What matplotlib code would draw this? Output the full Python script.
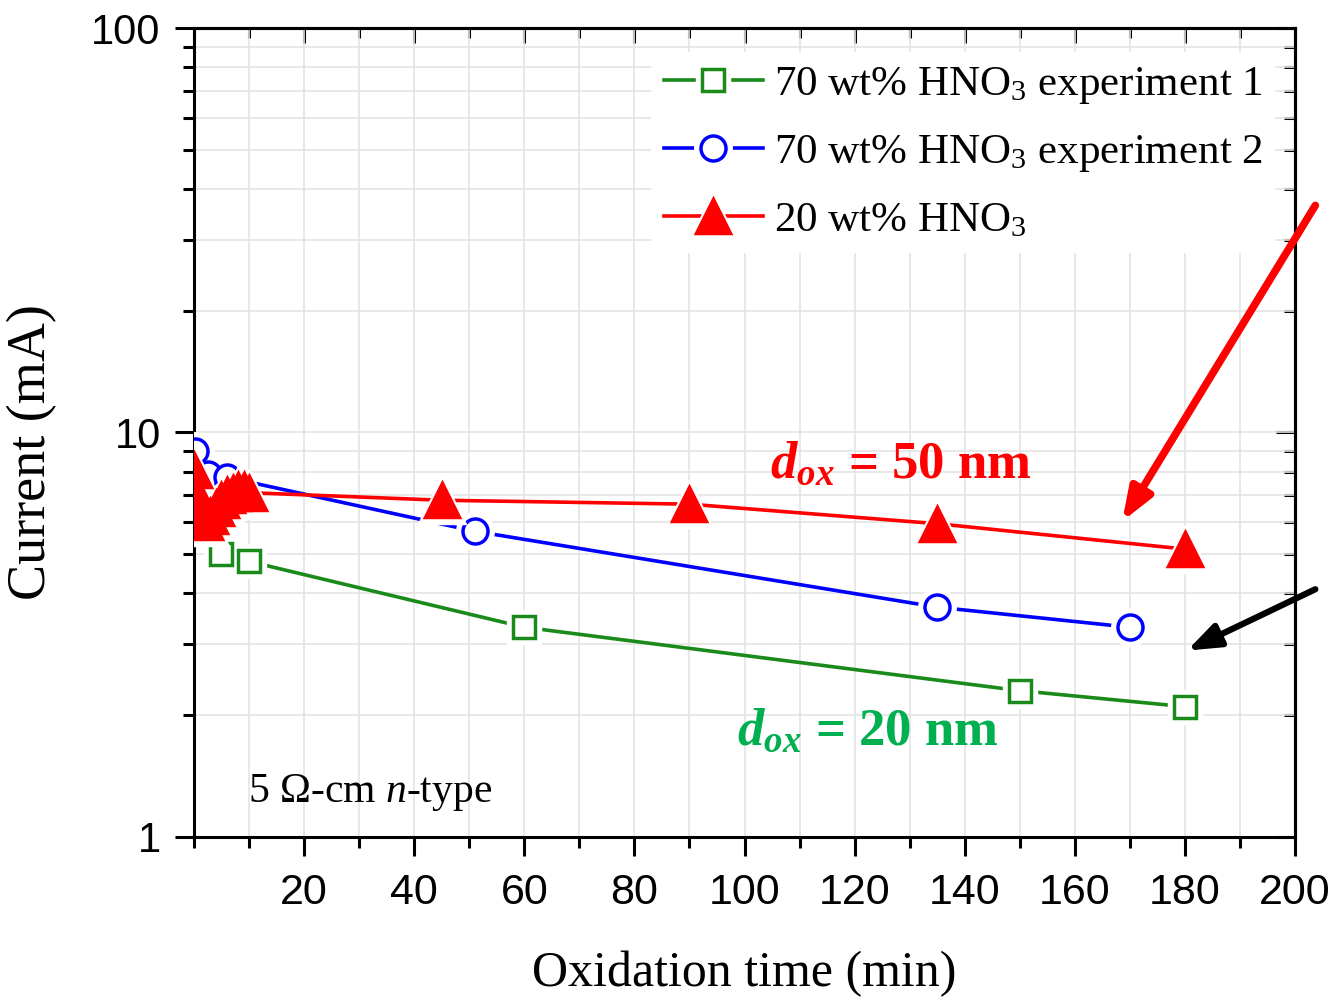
import numpy as np
import matplotlib
matplotlib.use("Agg")
import matplotlib.pyplot as plt
from matplotlib.ticker import FixedLocator, FixedFormatter, LogLocator, NullFormatter

# data (time in min, current in mA)
exp1_t = [0, 5, 10, 60, 150, 180]
exp1_i = [8.9, 5.0, 4.8, 3.3, 2.3, 2.1]

exp2_t = [0.2, 1, 2.5, 6, 51, 135, 170]
exp2_i = [9.0, 7.3, 7.9, 7.75, 5.7, 3.7, 3.3]

dil_t = [0, 0.5, 1, 2, 3, 4, 5, 6, 7, 8, 9, 10, 45, 90, 135, 180]
dil_i = [8.1, 7.0, 6.4, 6.0, 6.2, 6.5, 6.8, 7.0, 7.1, 7.2, 7.2, 7.1, 6.8, 6.65, 5.95, 5.15]

labels = ["70 wt% HNO$_3$ experiment 1",
          "70 wt% HNO$_3$ experiment 2",
          "20 wt% HNO$_3$"]

plt.rcParams["font.family"] = "Liberation Serif"
plt.rcParams["mathtext.fontset"] = "custom"
plt.rcParams["mathtext.rm"] = "Liberation Serif"
plt.rcParams["mathtext.it"] = "Liberation Serif:italic"
plt.rcParams["mathtext.bf"] = "Liberation Serif:bold"
plt.rcParams["mathtext.bfit"] = "Liberation Serif:italic:bold"

fig = plt.figure(figsize=(13.34, 9.97), dpi=100)
ax = fig.add_axes([0.1454, 0.1605, 0.8254, 0.8114])
ax.set_yscale("log")
ax.set_xlim(0, 200)
ax.set_ylim(1, 100)
ax.set_axisbelow(True)
ax.grid(which="both", color="#e4e4e4", lw=1.2)

series = [
    (exp1_t, exp1_i, "#1a8a1a", "s", 16, "white"),
    (exp2_t, exp2_i, "#0000ff", "o", 18, "white"),
    (dil_t, dil_i, "#ff0000", "^", 25, "#ff0000"),
]
handles = []
z = 2
for t, i, col, mk, ms, fc in series:
    ln, = ax.plot(t, i, "-", color=col, lw=2.6, zorder=2)
    halo, = ax.plot(t, i, ls="none", marker=mk, ms=ms + 9, mfc="white", mec="white", zorder=z + 1)
    dot, = ax.plot(t, i, ls="none", marker=mk, ms=ms, mfc=fc, mec=col, mew=2.5, zorder=z + 2)
    handles.append((ln, halo, dot))
    z += 2

# ticks: outward on left/bottom, inward on top/right
ax.xaxis.set_major_locator(FixedLocator(range(20, 201, 20)))
ax.xaxis.set_minor_locator(FixedLocator(range(0, 200, 10)))
ax.yaxis.set_major_locator(FixedLocator([1, 10, 100]))
ax.yaxis.set_major_formatter(FixedFormatter(["1", "10", "100"]))
ax.yaxis.set_minor_locator(LogLocator(subs=np.arange(2, 10)))
ax.yaxis.set_minor_formatter(NullFormatter())
ax.tick_params(which="major", direction="out", length=14, width=2.2)
ax.tick_params(which="minor", direction="out", length=8, width=2.2)
ax.tick_params(axis="x", labelsize=31, pad=12)
ax.tick_params(axis="y", labelsize=30, pad=10)
for lab in ax.get_xticklabels() + ax.get_yticklabels():
    lab.set_fontfamily("Liberation Sans")
for s in ax.spines.values():
    s.set_linewidth(2.2)

top = ax.secondary_xaxis("top")
top.xaxis.set_major_locator(FixedLocator(range(20, 201, 20)))
top.xaxis.set_minor_locator(FixedLocator(range(0, 200, 10)))
top.tick_params(which="major", direction="in", length=11, width=2.2, labeltop=False)
top.tick_params(which="minor", direction="in", length=7, width=2.2)
right = ax.secondary_yaxis("right")
right.yaxis.set_major_locator(FixedLocator([1, 10, 100]))
right.yaxis.set_minor_locator(LogLocator(subs=np.arange(2, 10)))
right.yaxis.set_minor_formatter(NullFormatter())
right.tick_params(which="major", direction="in", length=14, width=2.2, labelright=False)
right.tick_params(which="minor", direction="in", length=8, width=2.2)
for sa in (top, right):
    for s in sa.spines.values():
        s.set_linewidth(2.2)

ax.set_xlabel("Oxidation time (min)", fontsize=36)
ax.set_ylabel("Current (mA)", fontsize=39)
ax.xaxis.set_label_coords(0.5, -0.14)
ax.yaxis.set_label_coords(-0.124, 0.476)

leg = ax.legend(handles, labels, loc="upper left", bbox_to_anchor=(0.415, 0.97),
                fontsize=31, handlelength=2.3, handletextpad=0.25, labelspacing=0.62,
                borderaxespad=0, borderpad=0.3, frameon=True, fancybox=False,
                framealpha=1, facecolor="white", edgecolor="none", numpoints=1)
leg.set_zorder(20)

ax.text(104.6, 7.74, r"$\mathbfit{d}_{\mathbfit{ox}}$ = 50 nm", color="#ff0000",
        fontsize=38, fontweight="bold", va="baseline", zorder=15)
ax.text(98.6, 1.69, r"$\mathbfit{d}_{\mathbfit{ox}}$ = 20 nm", color="#00b050",
        fontsize=38, fontweight="bold", va="baseline", zorder=15)
ax.text(9.8, 1.217, r"5 Ω-cm $\mathit{n}$-type", fontsize=30, va="baseline", zorder=15)

ax.annotate("", xy=(168.6, 6.03), xycoords="data", xytext=(0.986, 0.794),
            textcoords="figure fraction", annotation_clip=False, zorder=25,
            arrowprops=dict(arrowstyle="-|>,head_length=0.75,head_width=0.28",
                            mutation_scale=26, color="#ff0000", lw=5.5,
                            shrinkA=0, shrinkB=0))
ax.annotate("", xy=(180.4, 2.89), xycoords="data", xytext=(0.986, 0.409),
            textcoords="figure fraction", annotation_clip=False, zorder=25,
            arrowprops=dict(arrowstyle="-|>,head_length=0.75,head_width=0.28",
                            mutation_scale=26, color="black", lw=4.5,
                            shrinkA=0, shrinkB=0))

fig.savefig("out.png", dpi=100)
